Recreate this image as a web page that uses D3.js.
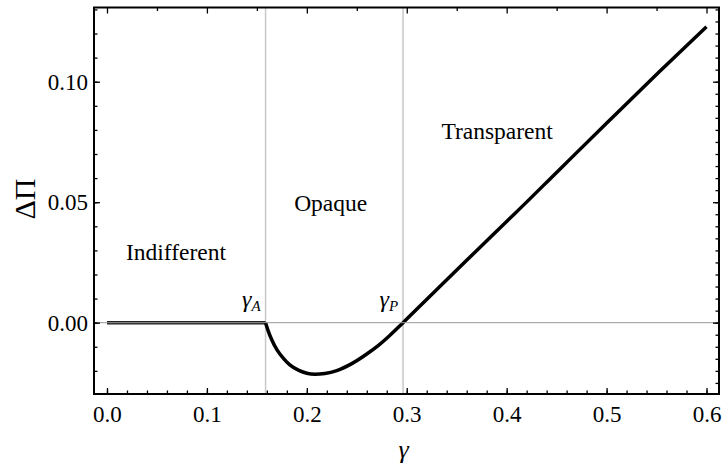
<!DOCTYPE html>
<html>
<head>
<meta charset="utf-8">
<script src="https://cdn.jsdelivr.net/npm/d3@7"></script>
<style>
  body { margin: 0; background: #fff; }
  svg text { fill: #000; }
</style>
</head>
<body>
<svg id="chart" width="722" height="468"></svg>
<script>
// values
const gammaFlat = [0, 0.1587];
const deltaFlat = [0, 0];
const gammaCurve = [0.1587, 0.1615, 0.165, 0.170, 0.177, 0.183, 0.192, 0.200, 0.208, 0.218,
                    0.230, 0.245, 0.260, 0.272, 0.283, 0.2963, 0.326, 0.360, 0.393, 0.408,
                    0.453, 0.503, 0.553, 0.600];
const deltaCurve = [0, -0.0036, -0.0072, -0.0112, -0.0150, -0.0175, -0.0198, -0.0210, -0.0214, -0.0211,
                    -0.0199, -0.0170, -0.0130, -0.0093, -0.0053, 0, 0.0121, 0.0259, 0.0392, 0.0452,
                    0.0636, 0.0840, 0.1042, 0.1228];
const thresholds = [0.1587, 0.2963];            // gamma_A, gamma_P
const thresholdNames = ["A", "P"];
const xTickLabels = [0, 0.1, 0.2, 0.3, 0.4, 0.5, 0.6];
const yTickLabels = [0, 0.05, 0.10];
const regionNames = ["Indifferent", "Opaque", "Transparent"];
const regionAt = [[0.019, 0.026], [0.1873, 0.0463], [0.3347, 0.0761]];

const svg = d3.select("#chart");
const pL = 94, pR = 719, pT = 7.5, pB = 394;
const serif = "Liberation Serif, Tinos, Noto Serif, Times New Roman, Times, Nimbus Roman, FreeSerif, DejaVu Serif, serif";

const x = d3.scaleLinear().domain([-0.013, 0.6125]).range([pL, pR]);
const y = d3.scaleLinear().domain([-0.0296, 0.1308]).range([pB, pT]);

const fmt2 = d3.format(".2f"), fmt1 = d3.format(".1f");

// grey threshold lines
svg.selectAll(".vline")
   .data(thresholds)
   .enter()
   .append("line")
   .attr("x1", d => x(d)).attr("x2", d => x(d))
   .attr("y1", pT).attr("y2", pB)
   .attr("stroke", "#c8c8c8")
   .attr("stroke-width", 1.5);

// curve
const line = d3.line().x(d => x(d[0])).y(d => y(d[1]));
svg.append("path")
   .attr("d", line(d3.zip(gammaFlat, deltaFlat)))
   .attr("fill", "none")
   .attr("stroke", "#222")
   .attr("stroke-width", 3.5);
svg.append("path")
   .attr("d", line.curve(d3.curveMonotoneX)(d3.zip(gammaCurve, deltaCurve)))
   .attr("fill", "none")
   .attr("stroke", "#000")
   .attr("stroke-width", 3.5)
   .attr("stroke-linejoin", "round");

// zero axis, drawn on top like the original
svg.append("line")
   .attr("x1", pL).attr("x2", pR)
   .attr("y1", y(0)).attr("y2", y(0))
   .attr("stroke", "#999")
   .attr("stroke-width", 1);

// ticks (all pointing inwards)
function ticks(axis, transform) {
  const g = svg.append("g").attr("transform", transform).call(axis);
  g.attr("font-family", serif).attr("font-size", 23);
  g.select(".domain").remove();
  g.selectAll("line").attr("stroke", "#000").attr("stroke-width", 1.3);
  return g;
}
ticks(d3.axisLeft(y).tickValues(yTickLabels).tickSize(-6).tickPadding(6).tickFormat(fmt2), `translate(${pL},0)`);
ticks(d3.axisLeft(y).tickValues(d3.range(-0.02, 0.131, 0.01)).tickSize(-3.5).tickFormat(""), `translate(${pL},0)`);
ticks(d3.axisBottom(x).tickValues(xTickLabels).tickSize(-6).tickPadding(12).tickFormat(fmt1), `translate(0,${pB})`);
ticks(d3.axisBottom(x).tickValues(d3.range(0, 0.61, 0.02)).tickSize(-3.5).tickFormat(""), `translate(0,${pB})`);
ticks(d3.axisTop(x).tickValues(d3.range(0, 0.61, 0.1)).tickSize(-6).tickFormat(""), `translate(0,${pT})`);
ticks(d3.axisTop(x).tickValues(d3.range(0.05, 0.61, 0.1)).tickSize(-3.5).tickFormat(""), `translate(0,${pT})`);
ticks(d3.axisRight(y).tickValues([0, 0.05, 0.1]).tickSize(-6).tickFormat(""), `translate(${pR},0)`);
ticks(d3.axisRight(y).tickValues(d3.range(-0.025, 0.131, 0.005)).tickSize(-3.5).tickFormat(""), `translate(${pR},0)`);

// frame
svg.append("rect")
   .attr("x", pL).attr("y", pT)
   .attr("width", pR - pL).attr("height", pB - pT)
   .attr("fill", "none")
   .attr("stroke", "#000")
   .attr("stroke-width", 2);

// region labels
svg.selectAll(".region")
   .data(regionNames)
   .enter()
   .append("text")
   .attr("x", (d, i) => x(regionAt[i][0]))
   .attr("y", (d, i) => y(regionAt[i][1]))
   .attr("font-family", serif)
   .attr("font-size", "23.5px")
   .text(d => d);

// gamma_A, gamma_P
const sub = svg.selectAll(".thr")
   .data(thresholds)
   .enter()
   .append("text")
   .attr("x", d => x(d) - 5)
   .attr("y", y(0) - 16)
   .attr("text-anchor", "end")
   .attr("font-family", serif)
   .attr("font-style", "italic")
   .attr("font-size", "24px");
sub.append("tspan").text("γ");
sub.append("tspan")
   .attr("font-size", "15px")
   .attr("dy", 4)
   .text((d, i) => thresholdNames[i]);

// axis titles
svg.append("text")
   .attr("x", (pL + pR) / 2 - 3)
   .attr("y", 458)
   .attr("text-anchor", "middle")
   .attr("font-family", serif)
   .attr("font-style", "italic")
   .attr("font-size", "26px")
   .text("γ");
svg.append("text")
   .attr("transform", "rotate(-90)")
   .attr("x", -199)
   .attr("y", 35)
   .attr("text-anchor", "middle")
   .attr("font-family", serif)
   .attr("font-size", "30px")
   .text("ΔΠ");
</script>
</body>
</html>
